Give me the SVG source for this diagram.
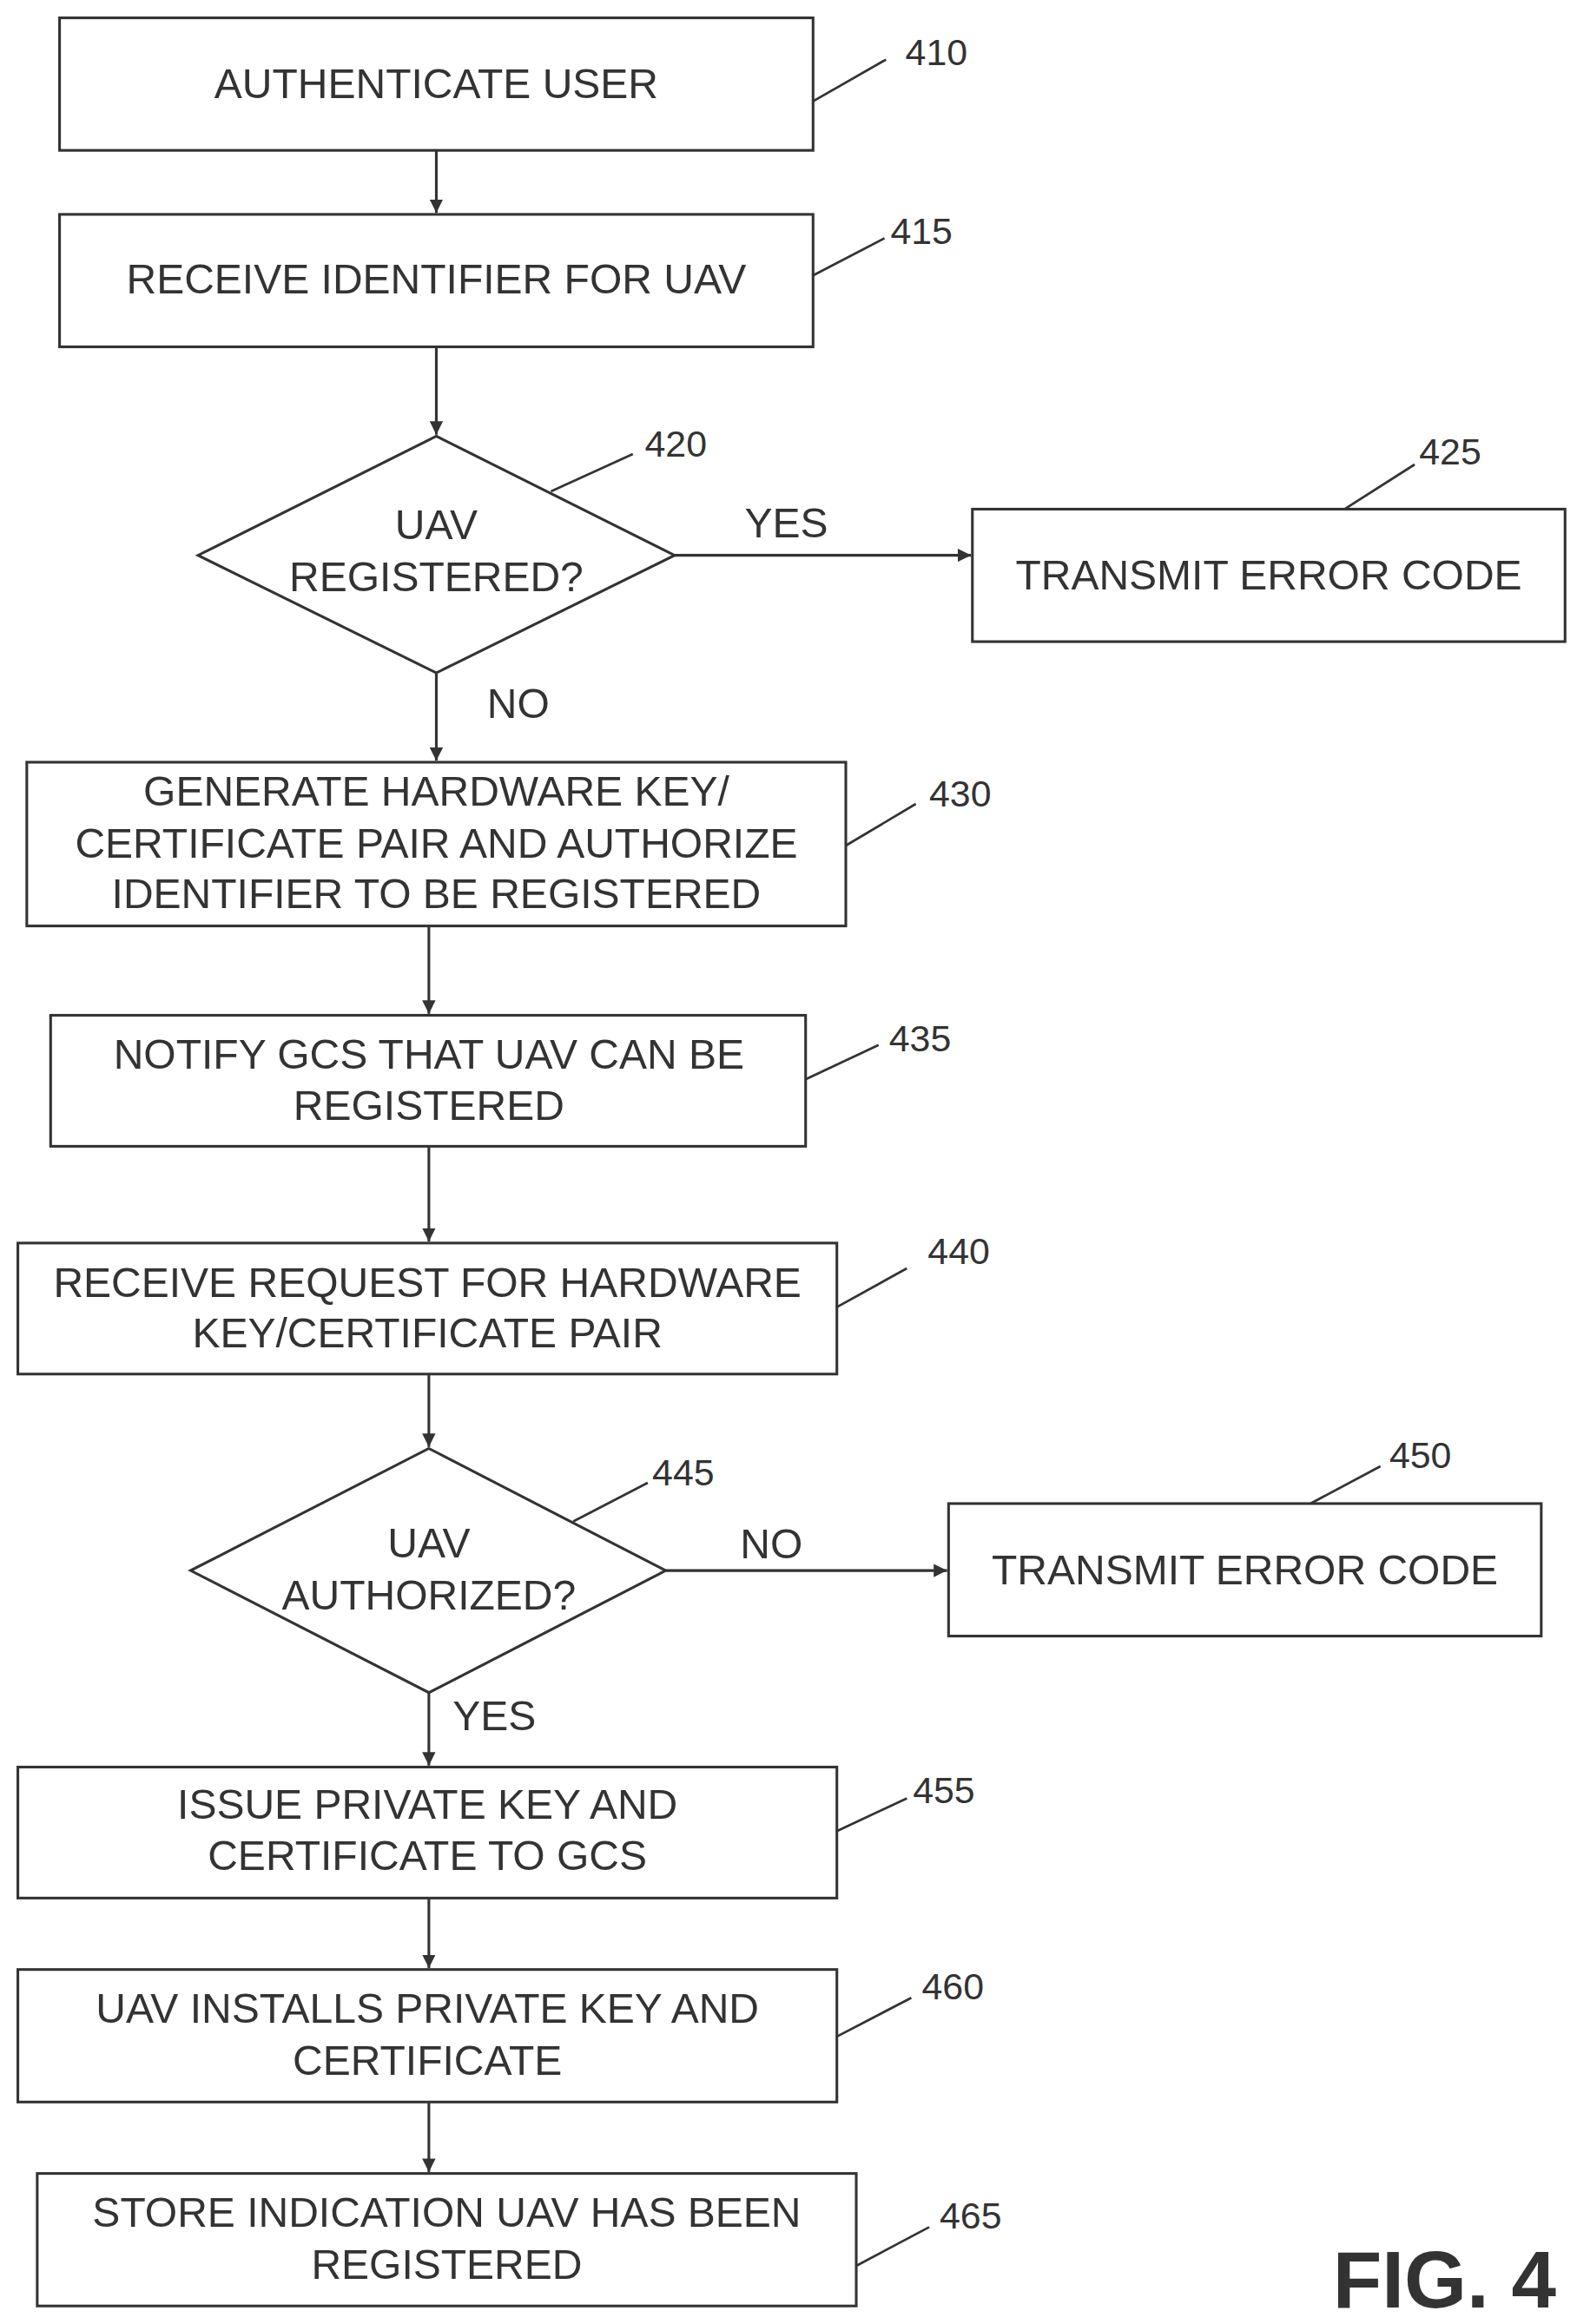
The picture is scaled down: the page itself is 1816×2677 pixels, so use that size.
<svg xmlns="http://www.w3.org/2000/svg" width="1816" height="2677" viewBox="0 0 1816 2677">
<style>
.b{fill:#fff;stroke:#333;stroke-width:1.8}
.t{font-family:"Liberation Sans",Arial,sans-serif;font-size:28px;fill:#333;text-anchor:middle}
.n{font-family:"Liberation Sans",Arial,sans-serif;font-size:25px;fill:#333}
.l{stroke:#333;stroke-width:1.6;fill:none}
.c{stroke:#333;stroke-width:1.8;fill:none;marker-end:url(#a)}
</style>
<defs><marker id="a" viewBox="0 0 10 10" refX="10" refY="5" markerWidth="9" markerHeight="9" markerUnits="userSpaceOnUse" orient="auto"><path d="M0,0L10,5L0,10z" fill="#333"/></marker></defs>
<rect width="1816" height="2677" fill="#fff"/>
<g transform="scale(1.7148)">
<g id="connectors">
<line class="c" x1="293" y1="101" x2="293" y2="143"/>
<line class="c" x1="293" y1="233" x2="293" y2="292"/>
<line class="c" x1="453" y1="373" x2="652" y2="373"/>
<line class="c" x1="293" y1="452" x2="293" y2="511"/>
<line class="c" x1="288" y1="622" x2="288" y2="681"/>
<line class="c" x1="288" y1="770" x2="288" y2="834"/>
<line class="c" x1="288" y1="923" x2="288" y2="972"/>
<line class="c" x1="447" y1="1055" x2="636" y2="1055"/>
<line class="c" x1="288" y1="1137" x2="288" y2="1186"/>
<line class="c" x1="288" y1="1275" x2="288" y2="1322"/>
<line class="c" x1="288" y1="1412" x2="288" y2="1459"/>
<text class="t" x="528" y="361">YES</text>
<text class="t" x="348" y="482">NO</text>
<text class="t" x="518" y="1047">NO</text>
<text class="t" x="332" y="1162">YES</text>
</g>
<g id="n410"><rect class="b" x="40" y="12" width="506" height="89"/><text class="t" x="293" y="66">AUTHENTICATE USER</text><line class="l" x1="546" y1="68" x2="595" y2="40"/><text class="n" x="608" y="44">410</text></g>
<g id="n415"><rect class="b" x="40" y="144" width="506" height="89"/><text class="t" x="293" y="197">RECEIVE IDENTIFIER FOR UAV</text><line class="l" x1="546" y1="185" x2="594" y2="160"/><text class="n" x="598" y="164">415</text></g>
<g id="n420"><polygon class="b" points="293,293 453,373 293,452 133,373"/><text class="t" x="293" y="362">UAV</text><text class="t" x="293" y="397">REGISTERED?</text><line class="l" x1="370" y1="330" x2="425" y2="305"/><text class="n" x="433" y="307">420</text></g>
<g id="n425"><rect class="b" x="653" y="342" width="398" height="89"/><text class="t" x="852" y="396">TRANSMIT ERROR CODE</text><line class="l" x1="903" y1="342" x2="950" y2="312"/><text class="n" x="953" y="312">425</text></g>
<g id="n430"><rect class="b" x="18" y="512" width="550" height="110"/><text class="t" x="293" y="541">GENERATE HARDWARE KEY/</text><text class="t" x="293" y="576">CERTIFICATE PAIR AND AUTHORIZE</text><text class="t" x="293" y="610">IDENTIFIER TO BE REGISTERED</text><line class="l" x1="568" y1="568" x2="615" y2="540"/><text class="n" x="624" y="542">430</text></g>
<g id="n435"><rect class="b" x="34" y="682" width="507" height="88"/><text class="t" x="288" y="718">NOTIFY GCS THAT UAV CAN BE</text><text class="t" x="288" y="752">REGISTERED</text><line class="l" x1="541" y1="725" x2="590" y2="702"/><text class="n" x="597" y="706">435</text></g>
<g id="n440"><rect class="b" x="12" y="835" width="550" height="88"/><text class="t" x="287" y="871">RECEIVE REQUEST FOR HARDWARE</text><text class="t" x="287" y="905">KEY/CERTIFICATE PAIR</text><line class="l" x1="562" y1="878" x2="609" y2="852"/><text class="n" x="623" y="849">440</text></g>
<g id="n445"><polygon class="b" points="288,973 447,1055 288,1137 128,1055"/><text class="t" x="288" y="1046">UAV</text><text class="t" x="288" y="1081">AUTHORIZED?</text><line class="l" x1="385" y1="1022" x2="435" y2="996"/><text class="n" x="438" y="998">445</text></g>
<g id="n450"><rect class="b" x="637" y="1010" width="398" height="89"/><text class="t" x="836" y="1064">TRANSMIT ERROR CODE</text><line class="l" x1="880" y1="1010" x2="927" y2="985"/><text class="n" x="933" y="986">450</text></g>
<g id="n455"><rect class="b" x="12" y="1187" width="550" height="88"/><text class="t" x="287" y="1222">ISSUE PRIVATE KEY AND</text><text class="t" x="287" y="1256">CERTIFICATE TO GCS</text><line class="l" x1="562" y1="1230" x2="609" y2="1208"/><text class="n" x="613" y="1211">455</text></g>
<g id="n460"><rect class="b" x="12" y="1323" width="550" height="89"/><text class="t" x="287" y="1359">UAV INSTALLS PRIVATE KEY AND</text><text class="t" x="287" y="1394">CERTIFICATE</text><line class="l" x1="562" y1="1368" x2="612" y2="1342"/><text class="n" x="619" y="1343">460</text></g>
<g id="n465"><rect class="b" x="25" y="1460" width="550" height="89"/><text class="t" x="300" y="1496">STORE INDICATION UAV HAS BEEN</text><text class="t" x="300" y="1531">REGISTERED</text><line class="l" x1="575" y1="1522" x2="624" y2="1496"/><text class="n" x="631" y="1497">465</text></g>
<text x="1045" y="1550" text-anchor="end" style="font-family:'Liberation Sans',Arial,sans-serif;font-weight:bold;font-size:54px;fill:#333">FIG. 4</text>
</g>
</svg>
